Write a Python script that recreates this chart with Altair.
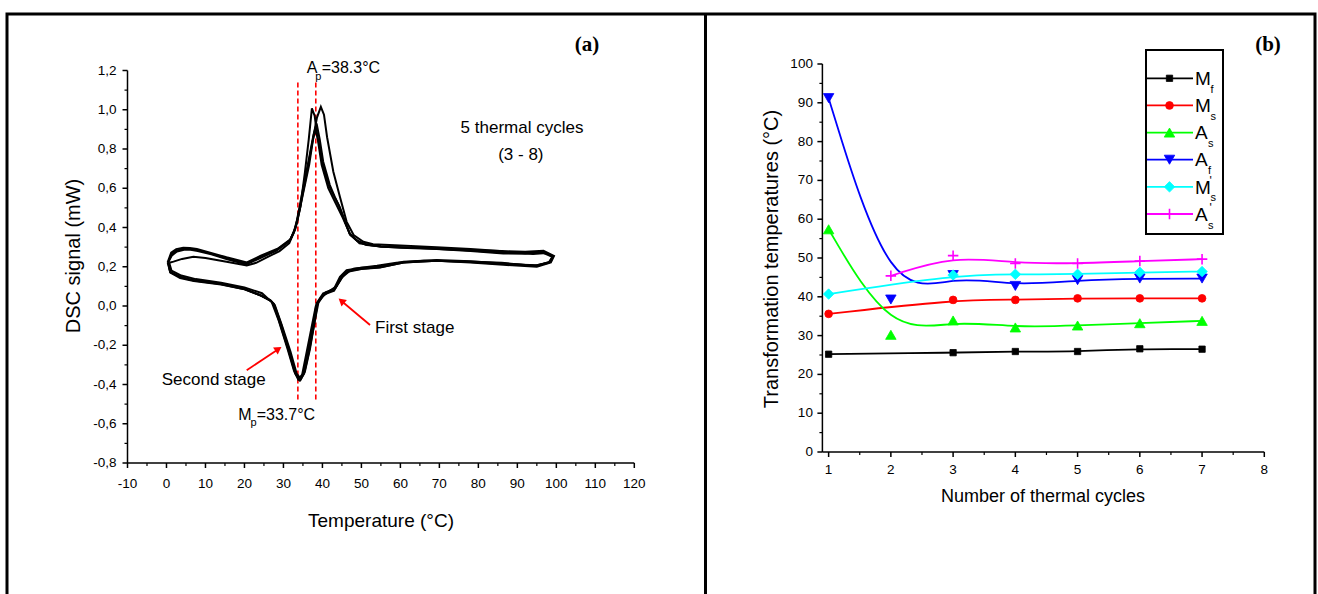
import altair as alt
import pandas as pd

W, H = 1318, 594
FONT = "Liberation Sans"

# ---------------- panel (a): DSC signal vs temperature (several thermal cycles) ----------------
loop1_T = [0.5, 1.3, 2.6, 4.3, 6.0, 7.8, 11.2, 15.4, 20.6, 24.0, 28.3, 31.7, 32.7, 33.4, 34.7, 36.4, 37.7, 38.5, 39.3, 40.2,
           41.9, 43.2, 44.5, 45.8, 47.1, 49.0, 51.4, 55.0, 60.0, 69.3, 78.0, 86.4, 92.0, 96.7, 99.2, 98.4, 95.0, 86.4, 78.0, 69.3,
           60.8, 54.8, 50.0, 46.2, 44.5, 42.8, 40.2, 38.5, 37.7, 36.4, 35.1, 34.1, 33.0, 31.3, 29.1, 27.4, 26.6, 24.0, 19.7, 13.7,
           6.9, 3.5, 0.9, 0.5]
loop1_S = [0.225, 0.265, 0.283, 0.290, 0.290, 0.285, 0.268, 0.243, 0.217, 0.251, 0.285, 0.336, 0.380, 0.430, 0.565, 0.735, 0.871, 0.930, 0.850, 0.735,
           0.616, 0.555, 0.500, 0.430, 0.362, 0.330, 0.311, 0.305, 0.300, 0.294, 0.283, 0.271, 0.270, 0.276, 0.254, 0.226, 0.204, 0.217, 0.228, 0.234,
           0.226, 0.200, 0.195, 0.183, 0.149, 0.081, 0.064, 0.013, -0.089, -0.225, -0.343, -0.377, -0.343, -0.225, -0.089, 0.013, 0.030, 0.056, 0.090, 0.115,
           0.132, 0.149, 0.175, 0.225]

loop2_T = [0.3, 1.2, 2.5, 4.3, 6.0, 7.8, 11.2, 15.4, 20.6, 24.2, 28.5, 31.8, 33.0, 34.3, 35.8, 37.3, 38.6, 39.6, 40.4, 41.2,
           42.8, 44.5, 46.2, 48.0, 50.5, 53.0, 60.0, 69.3, 78.0, 86.4, 92.0, 96.7, 99.4, 98.6, 95.0, 86.4, 78.0, 69.3, 60.8, 54.8,
           50.0, 46.8, 45.0, 43.3, 40.8, 39.0, 38.0, 36.8, 35.5, 34.5, 33.4, 31.8, 29.6, 27.8, 26.8, 24.4, 20.0, 14.0, 7.0, 3.5,
           1.0, 0.3]
loop2_S = [0.222, 0.272, 0.290, 0.297, 0.296, 0.290, 0.272, 0.248, 0.222, 0.256, 0.292, 0.340, 0.395, 0.505, 0.660, 0.820, 0.960, 1.015, 0.975, 0.860,
           0.684, 0.555, 0.430, 0.362, 0.327, 0.315, 0.308, 0.300, 0.290, 0.279, 0.276, 0.281, 0.255, 0.222, 0.200, 0.210, 0.222, 0.230, 0.222, 0.196,
           0.188, 0.176, 0.145, 0.090, 0.070, 0.020, -0.080, -0.220, -0.335, -0.372, -0.345, -0.232, -0.098, 0.004, 0.025, 0.052, 0.085, 0.110, 0.127, 0.142,
           0.170, 0.222]

loop3_T = [0.7, 1.8, 4.0, 6.9, 10.0, 15.4, 20.6, 23.0, 26.0, 29.0, 31.5, 33.0, 34.3, 35.5, 36.5, 37.3, 38.0, 38.8, 39.8, 41.5,
           43.5, 45.2, 47.0, 49.5, 55.0, 65.0, 75.0, 86.0, 94.0, 97.5, 99.0, 98.0, 94.5, 86.0, 75.0, 66.0, 59.0, 54.0, 48.0, 45.5,
           43.6, 41.5, 39.5, 38.3, 37.3, 36.0, 34.8, 33.8, 32.7, 31.0, 28.8, 27.0, 24.5, 20.0, 14.0, 7.5, 3.8, 1.3, 0.7]
loop3_S = [0.220, 0.226, 0.240, 0.251, 0.245, 0.226, 0.207, 0.220, 0.250, 0.280, 0.320, 0.390, 0.500, 0.680, 0.850, 1.007, 0.970, 0.850, 0.720, 0.600,
           0.520, 0.450, 0.370, 0.320, 0.302, 0.295, 0.285, 0.280, 0.265, 0.270, 0.250, 0.220, 0.205, 0.220, 0.228, 0.230, 0.220, 0.205, 0.190, 0.160,
           0.100, 0.072, 0.040, 0.000, -0.100, -0.230, -0.350, -0.375, -0.330, -0.215, -0.075, 0.020, 0.065, 0.095, 0.118, 0.137, 0.155, 0.180, 0.220]

loop4_T = [0.4, 1.4, 2.7, 4.5, 6.2, 8.0, 11.5, 15.6, 20.4, 24.2, 28.0, 31.5, 32.6, 33.5, 34.9, 36.6, 37.6, 38.2, 39.0, 40.0,
           41.5, 43.0, 44.3, 45.6, 47.0, 48.8, 51.0, 55.0, 60.0, 69.3, 78.0, 86.4, 92.0, 96.5, 99.0, 98.2, 95.0, 86.4, 78.0, 69.3,
           60.8, 54.8, 50.0, 46.5, 44.8, 43.0, 40.5, 38.7, 37.9, 36.6, 35.3, 34.3, 33.2, 31.5, 29.4, 27.6, 26.7, 24.2, 19.8, 13.8,
           7.0, 3.6, 1.0, 0.4]
loop4_S = [0.222, 0.258, 0.278, 0.286, 0.286, 0.280, 0.263, 0.238, 0.212, 0.246, 0.280, 0.330, 0.372, 0.425, 0.560, 0.720, 0.850, 0.900, 0.840, 0.730,
           0.620, 0.560, 0.510, 0.440, 0.368, 0.335, 0.313, 0.303, 0.297, 0.290, 0.280, 0.268, 0.266, 0.272, 0.250, 0.223, 0.208, 0.214, 0.224, 0.230,
           0.222, 0.198, 0.190, 0.178, 0.146, 0.078, 0.060, 0.010, -0.092, -0.228, -0.345, -0.378, -0.348, -0.230, -0.092, 0.010, 0.028, 0.053, 0.087, 0.112,
           0.130, 0.146, 0.172, 0.222]

loop_names = ["cycle A", "cycle B", "cycle C", "cycle D"]
loops_T = [loop1_T, loop2_T, loop3_T, loop4_T]
loops_S = [loop1_S, loop2_S, loop3_S, loop4_S]

peak_temps = [33.7, 38.3]          # Mp and Ap
xa_ticks = [-10, 0, 10, 20, 30, 40, 50, 60, 70, 80, 90, 100, 110, 120]
xa_labels = ["-10", "0", "10", "20", "30", "40", "50", "60", "70", "80", "90", "100", "110", "120"]
xa_minor = [-5, 5, 15, 25, 35, 45, 55, 65, 75, 85, 95, 105, 115]
ya_ticks = [-0.8, -0.6, -0.4, -0.2, 0.0, 0.2, 0.4, 0.6, 0.8, 1.0, 1.2]
ya_labels = ["-0,8", "-0,6", "-0,4", "-0,2", "0,0", "0,2", "0,4", "0,6", "0,8", "1,0", "1,2"]
ya_minor = [-0.7, -0.5, -0.3, -0.1, 0.1, 0.3, 0.5, 0.7, 0.9, 1.1]

# ---------------- panel (b): transformation temperatures ----------------
cycles = [1, 2, 3, 4, 5, 6, 7]
series_names = ["Mf", "Ms", "As", "Af", "Ms'", "As'"]
Mf = [25.2, None, 25.6, 25.9, 25.9, 26.6, 26.5]
Ms = [35.6, None, 39.2, 39.2, 39.6, 39.6, 39.6]
As = [57.4, 30.2, 33.9, 32.1, 32.6, 33.2, 33.8]
Af = [91.2, 39.3, 45.6, 42.8, 44.3, 44.7, 44.7]
Ms_p = [40.7, None, 45.6, 45.8, 45.8, 46.3, 46.5]
As_p = [None, 45.4, 50.6, 48.6, 48.6, 49.2, 49.7]
series_values = [Mf, Ms, As, Af, Ms_p, As_p]
series_colors = ["#000000", "#ff0000", "#00ff00", "#0000ff", "#00ffff", "#ff00ff"]
series_shapes = ["square", "circle", "triangle-up", "triangle-down", "diamond", "M-1,0H1M0,-1V1"]
series_sizes = [40, 60, 110, 110, 110, 110]
series_filled = [True, True, True, True, True, False]
legend_main = ["M", "M", "A", "A", "M", "A"]
legend_sub = ["f", "s", "s", "f", "s", "s"]
legend_prime = ["", "", "", "", "'", "'"]
xb_ticks = [1, 2, 3, 4, 5, 6, 7, 8]
xb_labels = ["1", "2", "3", "4", "5", "6", "7", "8"]
xb_minor = [1.5, 2.5, 3.5, 4.5, 5.5, 6.5, 7.5]
yb_ticks = [0, 10, 20, 30, 40, 50, 60, 70, 80, 90, 100]
yb_labels = ["0", "10", "20", "30", "40", "50", "60", "70", "80", "90", "100"]
yb_minor = [5, 15, 25, 35, 45, 55, 65, 75, 85, 95]

# ---------------- tables ----------------
rows = []
for name, Ts, Ss in zip(loop_names, loops_T, loops_S):
    for i, (t, s) in enumerate(zip(Ts, Ss)):
        rows.append({"loop": name, "i": i, "T": t, "S": s})
dsc_df = pd.DataFrame(rows)

rrows = []
for name, vals in zip(series_names, series_values):
    for c, v in zip(cycles, vals):
        if v is not None:
            rrows.append({"series": name, "cycle": c, "value": v})
temp_df = pd.DataFrame(rrows)
leg_df = pd.DataFrame({"series": series_names, "main": legend_main, "sub": legend_sub, "prime": legend_prime})
one = pd.DataFrame({"k": [0]})

# ---------------- geometry of the two plot areas ----------------
LX0, LX1, LY0, LY1 = 127.5, 634.3, 463.0, 70.5
RX0, RX1, RY0, RY1 = 822.4, 1264.3, 452.0, 64.0

xa = alt.Scale(domain=[-10, 120], range=[LX0, LX1], nice=False, zero=False)
ya = alt.Scale(domain=[-0.8, 1.2], range=[LY0, LY1], nice=False, zero=False)
xb = alt.Scale(domain=[0.9, 8], range=[RX0, RX1], nice=False, zero=False)
yb = alt.Scale(domain=[0, 100], range=[RY0, RY1], nice=False, zero=False)


def axis_layers(xs, ys, x_field, y_field, xdom, ydom, x0, y0,
                xt, xl, xm, yt, yl, ym, lab_size=13.5, xlab_gap=8.5, ylab_gap=6):
    """Axis lines, ticks and tick labels drawn through the panel's scales."""
    k = dict(color="black")
    dom_x = alt.Chart(one).mark_rule(strokeWidth=1.5, **k).encode(
        x=alt.XDatum(xdom[0], scale=xs, axis=None), x2=alt.X2Datum(xdom[1]),
        y=alt.YDatum(ydom[0], scale=ys, axis=None))
    dom_y = alt.Chart(one).mark_rule(strokeWidth=1.5, **k).encode(
        x=alt.XDatum(xdom[0], scale=xs, axis=None),
        y=alt.YDatum(ydom[0], scale=ys, axis=None), y2=alt.Y2Datum(ydom[1]))
    xmaj = alt.Chart(pd.DataFrame({x_field: xt, "lab": xl})).mark_rule(strokeWidth=1.5, **k).encode(
        x=alt.X(f"{x_field}:Q", scale=xs, axis=None), y=alt.value(y0), y2=alt.value(y0 + 5))
    xmin = alt.Chart(pd.DataFrame({x_field: xm})).mark_rule(strokeWidth=1.2, **k).encode(
        x=alt.X(f"{x_field}:Q", scale=xs, axis=None), y=alt.value(y0), y2=alt.value(y0 + 3))
    xtxt = alt.Chart(pd.DataFrame({x_field: xt, "lab": xl})).mark_text(
        font=FONT, fontSize=lab_size, align="center", baseline="top", **k).encode(
        x=alt.X(f"{x_field}:Q", scale=xs, axis=None), y=alt.value(y0 + 5 + xlab_gap), text="lab:N")
    ymaj = alt.Chart(pd.DataFrame({y_field: yt, "lab": yl})).mark_rule(strokeWidth=1.5, **k).encode(
        y=alt.Y(f"{y_field}:Q", scale=ys, axis=None), x=alt.value(x0 - 5), x2=alt.value(x0))
    ymin = alt.Chart(pd.DataFrame({y_field: ym})).mark_rule(strokeWidth=1.2, **k).encode(
        y=alt.Y(f"{y_field}:Q", scale=ys, axis=None), x=alt.value(x0 - 3), x2=alt.value(x0))
    ytxt = alt.Chart(pd.DataFrame({y_field: yt, "lab": yl})).mark_text(
        font=FONT, fontSize=lab_size, align="right", baseline="middle", **k).encode(
        y=alt.Y(f"{y_field}:Q", scale=ys, axis=None), x=alt.value(x0 - 5 - ylab_gap), text="lab:N")
    return [dom_x, dom_y, xmaj, xmin, xtxt, ymaj, ymin, ytxt]


def ptext(txt, x, y, size, angle=0, align="center", baseline="middle", font=FONT, weight="normal"):
    return alt.Chart(one).mark_text(text=txt, font=font, fontSize=size, fontWeight=weight, angle=angle,
                                    align=align, baseline=baseline, color="black").encode(
        x=alt.value(x), y=alt.value(y))


def atext(txt, T, S, size=17, align="left", baseline="alphabetic"):
    return alt.Chart(one).mark_text(text=txt, fontSize=size, font=FONT, align=align,
                                    baseline=baseline, color="black").encode(
        x=alt.XDatum(T, scale=xa, axis=None), y=alt.YDatum(S, scale=ya, axis=None))


def arrow(T0, S0, T1, S1, Th, Sh, ang):
    line = alt.Chart(one).mark_rule(color="#ff0000", strokeWidth=1.8).encode(
        x=alt.XDatum(T0, scale=xa, axis=None), y=alt.YDatum(S0, scale=ya, axis=None),
        x2=alt.X2Datum(T1), y2=alt.Y2Datum(S1))
    head = alt.Chart(one).mark_point(shape="triangle-up", filled=True, color="#ff0000", size=70,
                                     angle=ang, opacity=1).encode(
        x=alt.XDatum(Th, scale=xa, axis=None), y=alt.YDatum(Sh, scale=ya, axis=None))
    return [line, head]


# ---------------- panel (a) layers ----------------
dsc = alt.Chart(dsc_df).mark_line(color="black", strokeWidth=2, interpolate="linear").encode(
    x=alt.X("T:Q", scale=xa, axis=None),
    y=alt.Y("S:Q", scale=ya, axis=None),
    detail="loop:N",
    order="i:Q",
)
peaks = alt.Chart(pd.DataFrame({"T": peak_temps})).mark_rule(color="#ff0000", strokeDash=[5, 3], strokeWidth=1.6).encode(
    x=alt.X("T:Q", scale=xa, axis=None),
    y=alt.YDatum(-0.477, scale=ya, axis=None),
    y2=alt.Y2Datum(1.144),
)

left = alt.layer(
    *axis_layers(xa, ya, "T", "S", [-10, 120], [-0.8, 1.2], LX0, LY0,
                 xa_ticks, xa_labels, xa_minor, ya_ticks, ya_labels, ya_minor),
    peaks, dsc,
    atext("A", 35.97, 1.186, 16), atext("p", 38.18, 1.154, 11), atext("=38.3°C", 39.82, 1.186, 16),
    atext("M", 18.43, -0.581, 16), atext("p", 21.55, -0.612, 11), atext("=33.7°C", 23.15, -0.581, 16),
    atext("5 thermal cycles", 91.2, 0.884, 17, align="center"),
    atext("(3 - 8)", 90.9, 0.744, 17, align="center"),
    atext("First stage", 53.49, -0.14, 17),
    atext("Second stage", -1.23, -0.403, 17),
    *arrow(52.21, -0.097, 45.26, 0.019, 44.87, 0.026, 310),
    *arrow(20.58, -0.327, 28.28, -0.225, 28.71, -0.219, 56),
)

# ---------------- panel (b) layers ----------------
color_scale = alt.Scale(domain=series_names, range=series_colors)

b_lines = alt.Chart(temp_df).mark_line(interpolate="basis", strokeWidth=1.8).encode(
    x=alt.X("cycle:Q", scale=xb, axis=None),
    y=alt.Y("value:Q", scale=yb, axis=None),
    color=alt.Color("series:N", scale=color_scale, legend=None),
)

b_point_layers = []
leg_point_layers = []
ly = alt.Scale(type="point", domain=series_names, range=[78.3, 214], padding=0)
leg_y = alt.Y("series:N", scale=ly, axis=None)
for name, shp, sz, fl in zip(series_names, series_shapes, series_sizes, series_filled):
    mk = dict(shape=shp, size=sz, filled=fl, opacity=1, strokeWidth=(1.6 if not fl else 0.8))
    b_point_layers.append(
        alt.Chart(temp_df).transform_filter(alt.FieldEqualPredicate(field="series", equal=name))
        .mark_point(**mk).encode(
            x=alt.X("cycle:Q", scale=xb, axis=None), y=alt.Y("value:Q", scale=yb, axis=None),
            color=alt.Color("series:N", scale=color_scale, legend=None),
            stroke=alt.Stroke("series:N", scale=color_scale, legend=None)))
    leg_point_layers.append(
        alt.Chart(leg_df).transform_filter(alt.FieldEqualPredicate(field="series", equal=name))
        .mark_point(**mk).encode(
            y=leg_y, x=alt.value(1169.5),
            color=alt.Color("series:N", scale=color_scale, legend=None),
            stroke=alt.Stroke("series:N", scale=color_scale, legend=None)))

right = alt.layer(
    *axis_layers(xb, yb, "cycle", "value", [0.9, 8], [0, 100], RX0, RY0,
                 xb_ticks, xb_labels, xb_minor, yb_ticks, yb_labels, yb_minor, xlab_gap=5.6, ylab_gap=4.5),
    b_lines, *b_point_layers,
)

# ---------------- legend of panel (b) ----------------
leg_box = alt.Chart(one).mark_rect(fillOpacity=0, stroke="black", strokeWidth=2).encode(
    x=alt.value(1146), x2=alt.value(1223), y=alt.value(50), y2=alt.value(234))
leg_line = alt.Chart(leg_df).mark_rule(strokeWidth=1.8).encode(
    y=leg_y, x=alt.value(1147), x2=alt.value(1193),
    color=alt.Color("series:N", scale=color_scale, legend=None))
leg_main = alt.Chart(leg_df).mark_text(font=FONT, fontSize=19, align="left", baseline="alphabetic",
                                       dy=6.7, color="black").encode(
    y=leg_y, x=alt.value(1195), text="main:N")
leg_sub = alt.Chart(leg_df).transform_calculate(
    sx="datum.main == 'M' ? 1210.5 : 1208"
).mark_text(font=FONT, fontSize=11, align="left", baseline="alphabetic", dy=14.5, color="black").encode(
    y=leg_y, x=alt.X("sx:Q", scale=None, axis=None), text="sub:N")
leg_prime = alt.Chart(leg_df).mark_text(font=FONT, fontSize=12, align="left", baseline="alphabetic",
                                        dy=-2, color="black").encode(
    y=leg_y, x=alt.value(1209.5), text="prime:N")

legend = alt.layer(leg_box, leg_line, *leg_point_layers, leg_main, leg_sub, leg_prime)

# ---------------- frame, axis titles and panel labels ----------------
frame = alt.Chart(one).mark_rect(fillOpacity=0, stroke="black", strokeWidth=3).encode(
    x=alt.value(7), x2=alt.value(1315), y=alt.value(14), y2=alt.value(600))
divider = alt.Chart(one).mark_rule(color="black", strokeWidth=3).encode(
    x=alt.value(705.5), y=alt.value(14), y2=alt.value(594))
deco = alt.layer(
    frame, divider,
    ptext("(a)", 587, 45, 21, font="Liberation Serif", weight="bold"),
    ptext("(b)", 1268, 45, 21, font="Liberation Serif", weight="bold"),
    ptext("DSC signal (mW)", 74, 256, 20, angle=270),
    ptext("Temperature (°C)", 381, 521, 19),
    ptext("Transformation temperatures (°C)", 772, 259, 20, angle=270),
    ptext("Number of thermal cycles", 1043, 497, 18),
)

chart = alt.layer(
    deco, left, right, legend
).resolve_scale(x="independent", y="independent").properties(
    width=W, height=H, padding=0, background="white",
    autosize=alt.AutoSizeParams(type="none"),
).configure_view(stroke=None)

chart.save("out.html", embed_options={"renderer": "svg", "actions": False})
